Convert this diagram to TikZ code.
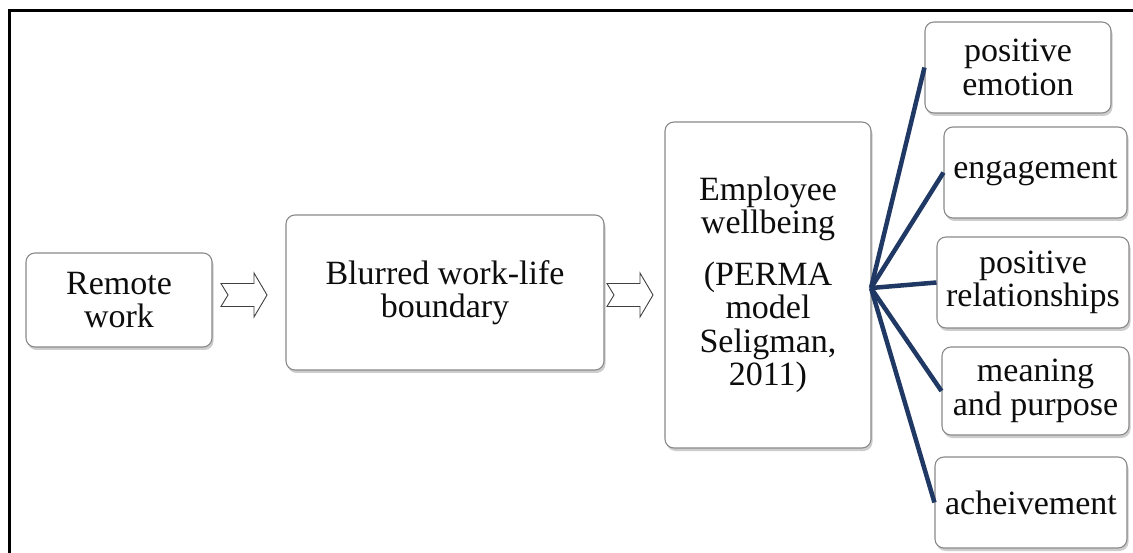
\documentclass[tikz,border=0pt]{standalone}
\usepackage{fontspec}
\setmainfont{Liberation Serif}
\usetikzlibrary{shadows,calc}

\definecolor{spoke}{HTML}{1F3864}
\definecolor{boxline}{HTML}{8A8A8A}
\definecolor{ink}{HTML}{0D0D0D}

\tikzset{
  card/.style={draw=boxline, line width=1.1pt, rounded corners=9pt, fill=white,
    align=center, inner sep=0pt, text=ink,
    font=\fontsize{34}{33.5}\selectfont,
    drop shadow={shadow xshift=1.5pt, shadow yshift=-3pt, opacity=0.28, fill=black!70}},
  spokeline/.style={draw=spoke, line width=4.5pt},
  frameline/.style={draw=black, line width=3pt},
  notcharrow/.pic={
    \draw[draw=black!75, line width=0.9pt, fill=white, line join=miter]
      (-23,-11.5) -- (10,-11.5) -- (10,-22) -- (23,0) -- (10,22)
      -- (10,11.5) -- (-23,11.5) -- (-16,0) -- cycle;
  }
}

\begin{document}
\begin{tikzpicture}[x=1pt,y=-1pt]
  \useasboundingbox (0,0) rectangle (1133,553);
  \fill[white] (0,0) rectangle (1133,553);

  % outer frame (top and left edges)
  \draw[frameline] (9,553) -- (9,11) -- (1133,11);

  % main chain
  \node[card, minimum width=186pt, minimum height=94pt] (remote) at (119,300) {Remote\\work};
  \node[card, minimum width=318pt, minimum height=155pt] (blur) at (445,292.5) {Blurred work-life\\boundary};
  \node[card, minimum width=206pt, minimum height=326pt] (emp) at (768,285)
    {Employee\\wellbeing\\[18pt](PERMA\\model\\Seligman,\\2011)};

  % block arrows between the boxes
  \coordinate (a1) at (244,295);
  \coordinate (a2) at (630,295);
  \pic at (a1) {notcharrow};
  \pic at (a2) {notcharrow};

  % PERMA elements
  \node[card, minimum width=186pt, minimum height=91pt] (emo) at (1018,67.5) {positive\\emotion};
  \node[card, minimum width=183pt, minimum height=91pt] (eng) at (1035.5,172.5) {engagement};
  \node[card, minimum width=192pt, minimum height=91pt] (rel) at (1033,282.5) {positive\\relationships};
  \node[card, minimum width=187pt, minimum height=88pt] (mea) at (1035.5,391) {meaning\\and purpose};
  \node[card, minimum width=192pt, minimum height=91pt] (ach) at (1031,502.5) {acheivement};

  % spokes from the wellbeing box
  \coordinate (hub) at (871,288);
  \foreach \t in {emo,eng,rel,mea,ach}
    \draw[spokeline] (hub) -- (\t.west);
\end{tikzpicture}
\end{document}
